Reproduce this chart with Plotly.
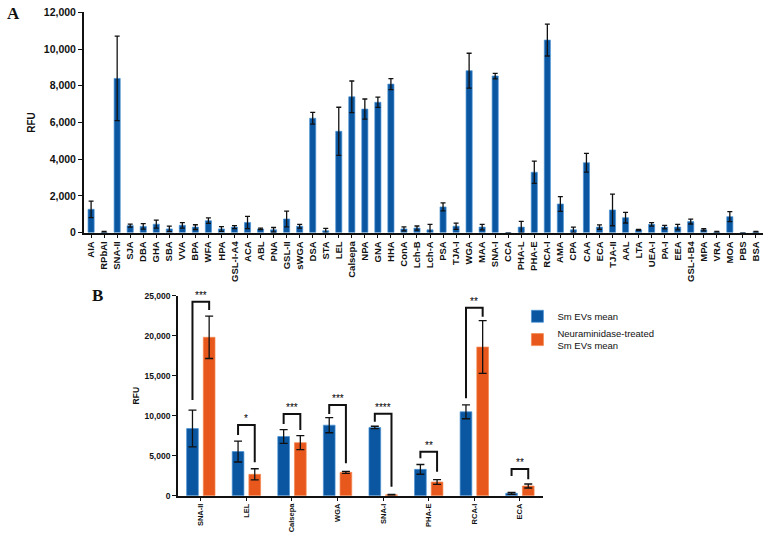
import plotly.graph_objects as go

# Panel A: lectin microarray, Sm EVs
lectins_a = ['AIA', 'RPbAI', 'SNA-II', 'SJA', 'DBA', 'GHA', 'SBA', 'VVA', 'BPA', 'WFA',
             'HPA', 'GSL-I-A4', 'ACA', 'ABL', 'PNA', 'GSL-II', 'sWGA', 'DSA', 'STA', 'LEL',
             'Calsepa', 'NPA', 'GNA', 'HHA', 'ConA', 'Lch-B', 'Lch-A', 'PSA', 'TJA-I', 'WGA',
             'MAA', 'SNA-I', 'CCA', 'PHA-L', 'PHA-E', 'RCA-I', 'AMA', 'CPA', 'CAA', 'ECA',
             'TJA-II', 'AAL', 'LTA', 'UEA-I', 'PA-I', 'EEA', 'GSL-I-B4', 'MPA', 'VRA', 'MOA',
             'PBS', 'BSA']
rfu_a = [1270, 20, 8400, 380, 340, 460, 200, 400, 300, 650,
         200, 300, 550, 200, 150, 745, 350, 6230, 100, 5520,
         7400, 6730, 7100, 8090, 200, 250, 150, 1400, 350, 8820,
         300, 8530, 0, 300, 3290, 10490, 1560, 150, 3810, 300,
         1235, 815, 150, 450, 300, 300, 600, 150, 30, 870,
         0, 40]
err_a = [450, 40, 2300, 80, 150, 220, 150, 150, 130, 150,
         130, 80, 330, 40, 130, 430, 100, 320, 130, 1310,
         860, 550, 280, 300, 110, 110, 300, 220, 170, 950,
         150, 150, 0, 310, 610, 870, 400, 150, 510, 120,
         860, 290, 30, 100, 100, 150, 130, 60, 30, 270,
         0, 30]

# Panel B: Sm EVs vs neuraminidase-treated Sm EVs
lectins_b = ['SNA-II', 'LEL', 'Calsepa', 'WGA', 'SNA-I', 'PHA-E', 'RCA-I', 'ECA']
sm_mean = [8400, 5520, 7400, 8820, 8530, 3290, 10490, 300]
sm_err = [2300, 1310, 860, 950, 150, 610, 870, 120]
neu_mean = [19800, 2670, 6630, 2920, 120, 1710, 18580, 1210]
neu_err = [2650, 700, 870, 120, 50, 290, 3300, 250]

# significance brackets (RFU levels)
bracket_top = [24250, 8840, 10210, 11340, 10250, 5500, 23500, 3340]
bracket_left = [11960, 7590, 8960, 10210, 9250, 4670, 12170, 2460]
bracket_right = [23200, 4170, 8210, 4040, 1120, 3000, 22370, 2050]
stars = ['***', '*', '***', '***', '****', '**', '**', '**']

BLUE = '#0b56a0'
ORANGE = '#e8581c'
FONT = 'Arial, Liberation Sans, sans-serif'
SERIF = 'Times New Roman, Liberation Serif, serif'

fig = go.Figure()

fig.add_trace(go.Bar(
    x=lectins_a, y=rfu_a,
    width=0.47,
    marker=dict(color=BLUE, line=dict(color='#4a93d6', width=0.7)),
    error_y=dict(type='data', array=err_a, color='#111111', thickness=1.3, width=2.5),
    showlegend=False,
    xaxis='x', yaxis='y'
))

pos_b = list(range(len(lectins_b)))
half = 0.183
bw = 0.257
fig.add_trace(go.Bar(
    x=pos_b, y=sm_mean, name='Sm EVs mean',
    width=bw, offset=-half - bw / 2,
    marker=dict(color=BLUE, line=dict(color='#4a93d6', width=0.7)),
    error_y=dict(type='data', array=sm_err, color='#111111', thickness=1.3, width=4),
    xaxis='x2', yaxis='y2'
))
fig.add_trace(go.Bar(
    x=pos_b, y=neu_mean, name='Neuraminidase-treated<br>Sm EVs mean',
    width=bw, offset=half - bw / 2,
    marker=dict(color=ORANGE, line=dict(color='#f3864f', width=0.7)),
    error_y=dict(type='data', array=neu_err, color='#111111', thickness=1.3, width=4),
    xaxis='x2', yaxis='y2'
))

# brackets
bx, by = [], []
for i in pos_b:
    bx += [i - half, i - half, i + half, i + half, None]
    by += [bracket_left[i], bracket_top[i], bracket_top[i], bracket_right[i], None]
fig.add_trace(go.Scatter(
    x=bx, y=by, mode='lines', line=dict(color='#111111', width=2),
    showlegend=False, hoverinfo='skip', xaxis='x2', yaxis='y2', cliponaxis=False
))

for i in pos_b:
    fig.add_annotation(x=i, y=bracket_top[i], xref='x2', yref='y2', text=stars[i],
                       showarrow=False, yanchor='bottom', yshift=-1,
                       font=dict(family=FONT, size=10, color='#000000'))

fig.add_annotation(x=0.018, y=0.975, xref='paper', yref='paper', text='<b>A</b>',
                   showarrow=False, xanchor='center', yanchor='middle',
                   font=dict(family=SERIF, size=17, color='#111111'))
fig.add_annotation(x=0.126, y=0.448, xref='paper', yref='paper', text='<b>B</b>',
                   showarrow=False, xanchor='center', yanchor='middle',
                   font=dict(family=SERIF, size=17, color='#111111'))

axis_common = dict(showgrid=False, zeroline=False, showline=True, linecolor='#111111',
                   linewidth=1.8, ticks='outside', tickcolor='#111111', tickwidth=1.3)

fig.update_layout(
    template='none',
    width=770, height=536,
    margin=dict(l=0, r=0, t=0, b=0),
    paper_bgcolor='white', plot_bgcolor='white',
    barmode='overlay',
    font=dict(family=FONT, color='#111111'),
    xaxis=dict(domain=[0.109, 0.991], anchor='y', range=[-0.55, 51.55], type='category',
               tickangle=-90, ticklen=3, tickfont=dict(size=9.5, weight='bold'),
               automargin=False, **axis_common),
    yaxis=dict(domain=[0.566, 0.977], anchor='x', range=[0, 12000], tickvals=list(range(0, 12001, 2000)),
               tickformat=',d', ticklen=4, tickfont=dict(size=10.5, weight='bold'),
               title=dict(text='<b>RFU</b>', font=dict(size=10), standoff=6),
               automargin=False, **axis_common),
    xaxis2=dict(domain=[0.2312, 0.7048], anchor='y2', range=[-0.5, 7.5],
                tickvals=pos_b, ticktext=lectins_b, tickangle=-90, ticklen=3,
                tickfont=dict(size=7.5, weight='bold'), automargin=False, **axis_common),
    yaxis2=dict(domain=[0.0752, 0.4483], anchor='x2', range=[0, 25000],
                tickvals=list(range(0, 25001, 5000)), tickformat=',d', ticklen=4,
                tickfont=dict(size=8.5, weight='bold'),
                title=dict(text='<b>RFU</b>', font=dict(size=8.5), standoff=3),
                automargin=False, **axis_common),
    legend=dict(x=0.672, y=0.437, xanchor='left', yanchor='top', bgcolor='rgba(0,0,0,0)',
                font=dict(family=FONT, size=9.5, color='#111111'), tracegroupgap=0),
)

# the page body has a default 8px margin; drop it so the figure fills the window
fig.write_html("out.html", config={'displayModeBar': False},
               post_script="document.body.style.margin='0';")
